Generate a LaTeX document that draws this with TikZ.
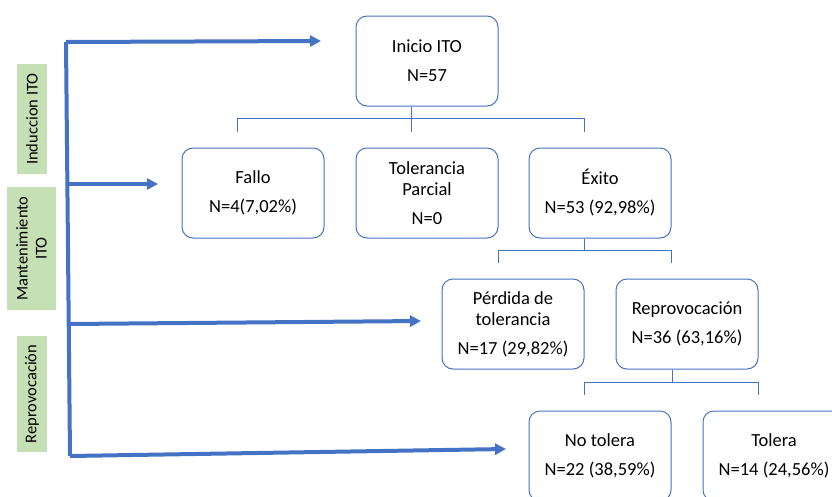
\documentclass[tikz,border=0pt]{standalone}
\usepackage{fontspec}
\setmainfont{Carlito}
\usetikzlibrary{arrows.meta,calc}
\definecolor{obl}{HTML}{4472C4}
\definecolor{ogr}{HTML}{C5E0B4}
\tikzset{
  stepbox/.style={draw=obl, line width=1pt, rounded corners=11pt, minimum width=142pt, minimum height=90pt, inner sep=0pt, align=center, font=\fontsize{18.5}{21}\selectfont, fill=white},
  tree/.style={draw=obl, line width=0.9pt},
  phase/.style={fill=ogr, inner sep=0pt, rotate=90, align=center, font=\fontsize{16.5}{19}\selectfont},
  bigarrow/.style={draw=obl, line width=4pt, -{Triangle[length=11pt,width=11pt]}},
  bigline/.style={draw=obl, line width=4pt}
}
\begin{document}
\begin{tikzpicture}[x=1pt,y=-1pt]
\useasboundingbox (0,0) rectangle (832,496);
\clip (0,0) rectangle (832,496);
% boxes
\node[stepbox] (inicio) at (427,61) {Inicio ITO\\[8pt]N=57};
\node[stepbox] (fallo) at (253,193) {Fallo\\[8pt]N=4(7,02\%)};
\node[stepbox] (tolp) at (427,193) {Tolerancia\\Parcial\\[8pt]N=0};
\node[stepbox] (exito) at (600,193) {Éxito\\[8pt]N=53 (92,98\%)};
\node[stepbox] (perdida) at (513,324) {Pérdida de\\tolerancia\\[8pt]N=17 (29,82\%)};
\node[stepbox] (repro) at (687,324) {Reprovocación\\[8pt]N=36 (63,16\%)};
\node[stepbox] (notol) at (600,456) {No tolera\\[8pt]N=22 (38,59\%)};
\node[stepbox] (tol) at (774,456) {Tolera\\[8pt]N=14 (24,56\%)};
% tree connectors
\coordinate (j1) at (411,118);
\coordinate (j2) at (584,250);
\coordinate (j3) at (672,382);
\draw[tree] (inicio.south -| j1) -- (j1);
\draw[tree] (237,132) -- (237,118) -- (584,118) -- (584,132);
\draw[tree] (j1) -- (411,132);
\draw[tree] (exito.south -| j2) -- (j2);
\draw[tree] (498,263) -- (498,250) -- (671,250) -- (671,263);
\draw[tree] (repro.south -| j3) -- (j3);
\draw[tree] (584,395) -- (584,382) -- (758,382) -- (758,395);
% phase labels
\node[phase, minimum width=110pt, minimum height=30pt] (induc) at (32,119) {Induccion ITO};
\node[phase, minimum width=123pt, minimum height=49pt] (mant) at (31.5,248.5) {Mantenimiento\\ITO};
\node[phase, minimum width=116pt, minimum height=30pt] (reprov) at (32,394) {Reprovocación};
% timeline arrows
\coordinate (t0) at (66,42);
\coordinate (t1) at (68,184);
\coordinate (t2) at (69,324);
\coordinate (t3) at (70,456);
\coordinate (a0) at (321,41);
\coordinate (a1) at (158,184);
\coordinate (a2) at (421,321);
\coordinate (a3) at (506,449);
\draw[bigline] (t0) -- (t3);
\draw[bigarrow] (t0) -- (a0);
\draw[bigarrow] (t1) -- (a1);
\draw[bigarrow] (t2) -- (a2);
\draw[bigarrow] (t3) -- (a3);
\end{tikzpicture}
\end{document}
